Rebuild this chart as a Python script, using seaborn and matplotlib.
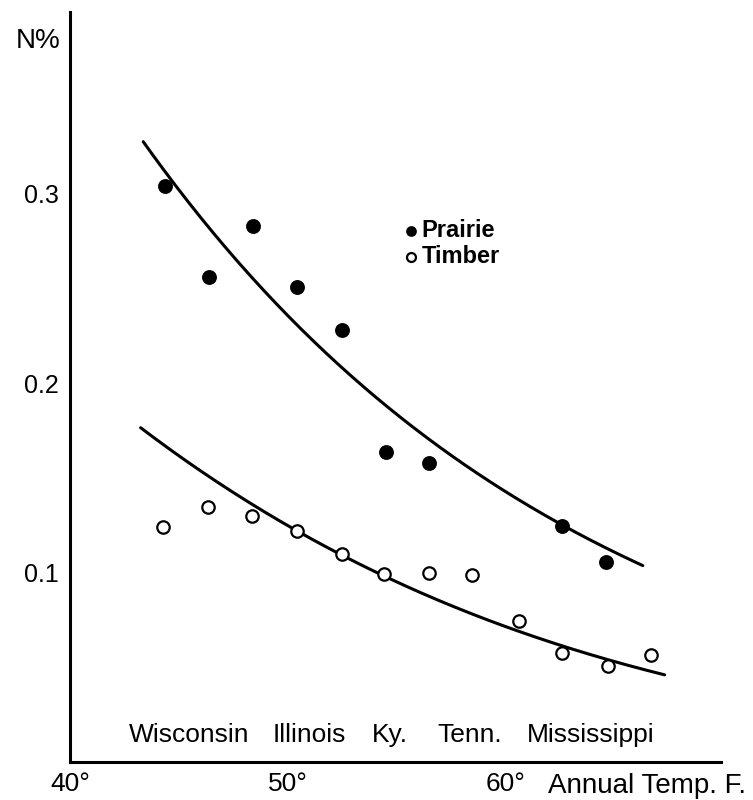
import matplotlib
matplotlib.use('Agg')
import matplotlib.pyplot as plt
import numpy as np
import pandas as pd
import seaborn as sns

# Values (deg F, N %)
prairie_temp = [44.36, 46.39, 48.39, 50.40, 52.46, 54.50, 56.47, 62.60, 64.60]
prairie_n = [0.304, 0.256, 0.283, 0.251, 0.228, 0.164, 0.158, 0.125, 0.106]

timber_temp = [44.25, 46.33, 48.33, 50.43, 52.50, 54.40, 56.47, 58.44, 60.60, 62.60, 64.68, 66.65]
timber_n = [0.124, 0.135, 0.130, 0.122, 0.110, 0.0995, 0.100, 0.099, 0.0747, 0.0578, 0.0509, 0.0567]

# points along the hand-drawn trend curves
prairie_curve_temp = [43.36, 46.88, 54.13, 59.72, 62.60, 66.29]
prairie_curve_n = [0.326, 0.2775, 0.191, 0.145, 0.125, 0.104]
timber_curve_temp = [43.24, 50.43, 54.40, 57.34, 60.60, 62.60, 64.66, 67.29]
timber_curve_n = [0.176, 0.122, 0.0995, 0.084, 0.070, 0.0603, 0.0524, 0.0476]

states = ['Wisconsin', 'Illinois', 'Ky.', 'Tenn.', 'Mississippi']
state_pos = [45.46, 50.96, 54.70, 58.35, 63.90]

x_ticks = [40, 50, 60]
x_tick_labels = ['40°', '50°', '60°']
y_ticks = [0.1, 0.2, 0.3]
y_tick_labels = ['0.1', '0.2', '0.3']

sns.set_style('white')
plt.rcParams['font.family'] = ['Liberation Sans', 'DejaVu Sans']
plt.rcParams['text.color'] = 'black'

prairie = pd.DataFrame({'temp': prairie_temp, 'N': prairie_n})
timber = pd.DataFrame({'temp': timber_temp, 'N': timber_n})


def smooth_curve(xs, ys):
    # smooth trend through the curve points (quadratic in log N)
    coef = np.polyfit(xs, np.log(ys), 2)
    xx = np.linspace(min(xs), max(xs), 200)
    return pd.DataFrame({'temp': xx, 'N': np.exp(np.polyval(coef, xx))})


fig = plt.figure(figsize=(7.53, 8.0), dpi=100)
ax = fig.add_axes([0.093, 0.047, 0.864, 0.938])

for xs, ys in [(prairie_curve_temp, prairie_curve_n), (timber_curve_temp, timber_curve_n)]:
    sns.lineplot(data=smooth_curve(xs, ys), x='temp', y='N', sort=False,
                 color='black', linewidth=2.2, ax=ax)

sns.scatterplot(data=prairie, x='temp', y='N', marker='o', s=115,
                color='black', edgecolor='black', linewidth=0, ax=ax,
                label='Prairie', zorder=3)
sns.scatterplot(data=timber, x='temp', y='N', marker='o', s=80,
                facecolor='white', edgecolor='black', linewidth=1.6, ax=ax,
                label='Timber', zorder=3)

ax.set_xlim(40, 69.86)
ax.set_ylim(0, 0.396)

ax.set_xticks(x_ticks)
ax.set_xticklabels(x_tick_labels, fontsize=19)
ax.set_yticks(y_ticks)
ax.set_yticklabels(y_tick_labels, fontsize=18)
ax.tick_params(axis='both', direction='in', length=4, width=1.2, colors='black', pad=7)
ax.tick_params(axis='y', pad=8)
ax.set_xlabel('')
ax.set_ylabel('')

for side in ['top', 'right']:
    ax.spines[side].set_visible(False)
for side in ['left', 'bottom']:
    ax.spines[side].set_color('black')
    ax.spines[side].set_linewidth(2.2)

for name, pos in zip(states, state_pos):
    ax.text(pos, 0.0145, name, ha='center', va='center', fontsize=19,
            color='black')

fig.text(548 / 753, 1 - 786 / 800, 'Annual Temp. F.', ha='left', va='center',
         fontsize=20, color='black')
fig.text(38 / 753, 1 - 41 / 800, 'N%', ha='center', va='center',
         fontsize=20, color='black')

leg = ax.legend(loc='upper left', bbox_to_anchor=(0.4915, 0.737), frameon=False,
                prop={'size': 17, 'weight': 'bold'}, markerscale=0.72,
                handletextpad=-0.05, labelspacing=0.15, handlelength=1.0,
                borderaxespad=0, labelcolor='black')

fig.savefig('out.png', dpi=100)
